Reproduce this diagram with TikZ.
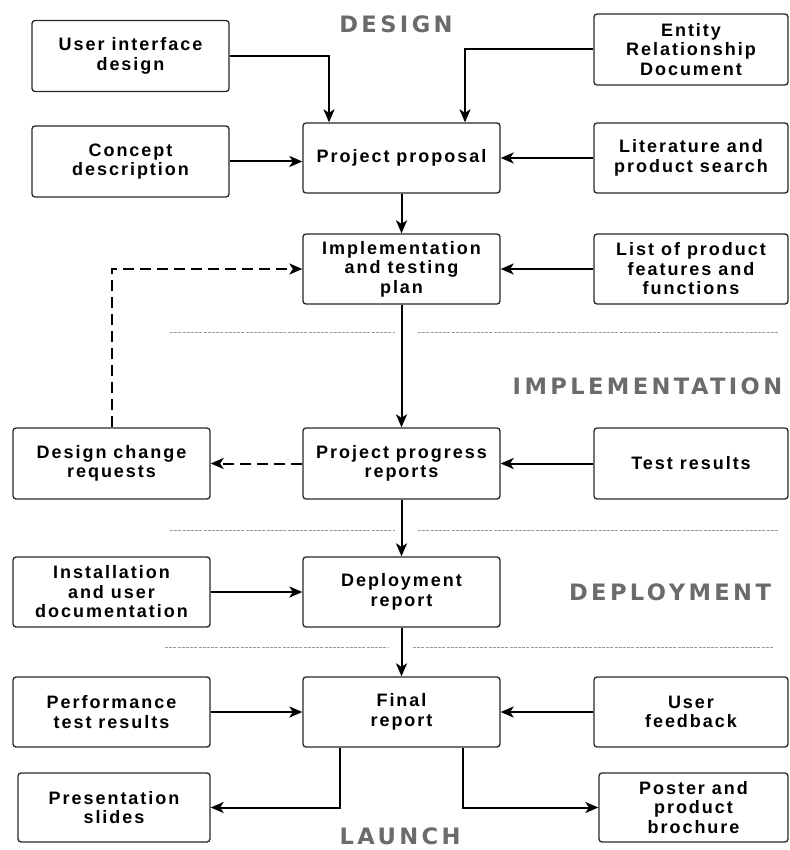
\documentclass[tikz,border=0pt]{standalone}
\usepackage{fontspec}
\setmainfont{Liberation Sans}
\newfontfamily\boxfont[LetterSpace=11]{Liberation Sans Bold}
\newfontfamily\titlefont[LetterSpace=15]{DejaVu Sans Bold}
\usetikzlibrary{arrows.meta}
\definecolor{titlegray}{HTML}{6B6B6B}
\definecolor{sepgray}{HTML}{9A9A9A}
\tikzset{
  box/.style={draw=black!85, line width=1.3pt, rounded corners=3pt, align=center,
    minimum width=197pt, minimum height=71pt, inner sep=2pt,
    font=\boxfont\fontsize{18}{19.5}\selectfont},
  arr/.style={line width=2pt, -{Stealth[length=13pt,width=11pt,inset=3.5pt]}},
  darr/.style={arr, dash pattern=on 11pt off 6pt},
  phase/.style={font=\titlefont\fontsize{22.6}{24}\selectfont, text=titlegray, inner sep=0pt},
  sep/.style={draw=sepgray, line width=0.8pt, dash pattern=on 3pt off 1.2pt}
}
\begin{document}
\begin{tikzpicture}[x=1pt,y=-1pt]
\useasboundingbox (0,0) rectangle (789,850);
% phase titles
\node[phase] (tdesign) at (396,24.5) {DESIGN};
\node[phase] (timpl) at (647.5,386.5) {IMPLEMENTATION};
\node[phase] (tdeploy) at (670,592) {DEPLOYMENT};
\node[phase, anchor=base] (tlaunch) at (400,844) {LAUNCH};
% separators
\draw[sep] (170,332) -- (395,332);
\draw[sep] (418,332) -- (778,332);
\draw[sep] (170,530) -- (395,530);
\draw[sep] (418,530) -- (778,530);
\draw[sep] (165,647) -- (388,647);
\draw[sep] (413,647) -- (773,647);
% boxes
\node[box] (ui) at (130.5,56) {User interface\\design};
\node[box] (concept) at (130.5,161.5) {Concept\\description};
\node[box, minimum height=70pt] (proposal) at (401.5,158) {Project proposal};
\node[box, minimum width=194pt] (erd) at (691,49.5) {Entity\\Relationship\\Document};
\node[box, minimum width=194pt, minimum height=70pt] (lit) at (691,158) {Literature and\\product search};
\node[box, minimum height=70pt] (impl) at (401.5,269) {Implementation\\and testing\\plan};
\node[box, minimum width=194pt, minimum height=70pt] (list) at (691,269) {List of product\\features and\\functions};
\node[box] (dcr) at (111.5,463.5) {Design change\\requests};
\node[box] (progress) at (401.5,463.5) {Project progress\\reports};
\node[box, minimum width=194pt] (test) at (691,463.5) {Test results};
\node[box, minimum height=70pt] (inst) at (111.5,592) {Installation\\and user\\documentation};
\node[box, minimum height=70pt] (deploy) at (401.5,592) {Deployment\\report};
\node[box, minimum height=70pt] (perf) at (111.5,712) {Performance\\test results};
\node[box, minimum height=70pt] (final) at (401.5,712) {Final\\report};
\node[box, minimum width=194pt, minimum height=70pt] (fb) at (691,712) {User\\feedback};
\node[box, minimum width=192pt, minimum height=69pt] (pres) at (114,807.5) {Presentation\\slides};
\node[box, minimum width=189pt, minimum height=69pt] (poster) at (693.5,807.5) {Poster and\\product\\brochure};
% connectors
\draw[arr] (ui.east) -| ([xshift=-72.5pt]proposal.north);
\draw[arr] (erd.west) -| ([xshift=63.5pt]proposal.north);
\draw[arr] (concept.east) -- (concept.east -| proposal.west);
\draw[arr] (lit.west) -- (proposal.east);
\draw[arr] (proposal.south) -- (impl.north);
\draw[arr] (list.west) -- (impl.east);
\draw[darr] (dcr.north) |- (impl.west);
\draw[arr] (impl.south) -- (progress.north);
\draw[darr] (progress.west) -- (dcr.east);
\draw[arr] (test.west) -- (progress.east);
\draw[arr] (progress.south) -- (deploy.north);
\draw[arr] (inst.east) -- (deploy.west);
\draw[arr] (deploy.south) -- (final.north);
\draw[arr] (perf.east) -- (final.west);
\draw[arr] (fb.west) -- (final.east);
\draw[arr] ([xshift=-61.5pt]final.south) |- (pres.east);
\draw[arr] ([xshift=61.5pt]final.south) |- (poster.west);
\end{tikzpicture}
\end{document}
